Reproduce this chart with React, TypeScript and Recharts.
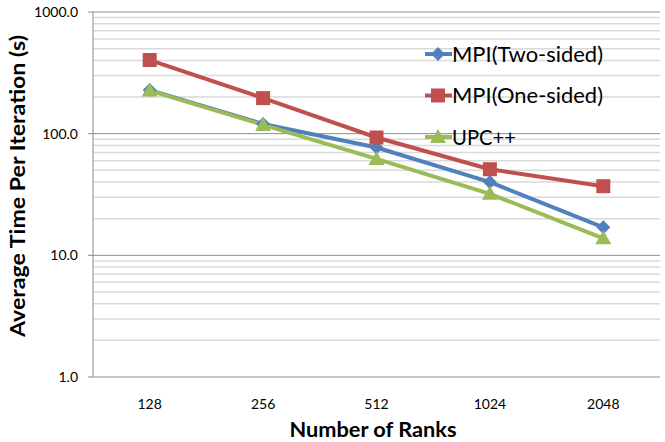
import { Line, LineChart, ReferenceLine, XAxis, YAxis } from "recharts";

const ranks = ["128", "256", "512", "1024", "2048"];
const twoSided = [228, 120, 77, 40, 17];
const oneSided = [403, 196, 93, 51, 37];
const upcxx = [226, 118, 62, 32, 13.8];

const majorTicks = [1, 10, 100, 1000];
const minorMultipliers = [2, 3, 4, 5, 6, 7, 8, 9];
const minorTicks = majorTicks.slice(0, 3).flatMap((d) => minorMultipliers.map((m) => m * d));

const SERIES = [
  { key: "two", name: "MPI(Two-sided)", color: "#4F81BD", shape: "diamond", textLen: 151 },
  { key: "one", name: "MPI(One-sided)", color: "#C0504D", shape: "square", textLen: 151 },
  { key: "upc", name: "UPC++", color: "#9BBB59", shape: "triangle", textLen: 64 },
];

const data = ranks.map((r, i) => ({
  rank: r,
  pos: i + 0.5,
  two: twoSided[i],
  one: oneSided[i],
  upc: upcxx[i],
}));

const FONT = "Lato, 'Open Sans', sans-serif";

function Marker({ cx, cy, shape, color }: any) {
  if (cx == null || cy == null) return null;
  if (shape === "diamond") {
    const s = 7;
    return <polygon points={`${cx},${cy - s} ${cx + s},${cy} ${cx},${cy + s} ${cx - s},${cy}`} fill={color} />;
  }
  if (shape === "square") {
    const s = 7;
    return <rect x={cx - s} y={cy - s} width={s * 2} height={s * 2} fill={color} />;
  }
  const s = 8;
  return <polygon points={`${cx},${cy - s} ${cx + s},${cy + s * 0.75} ${cx - s},${cy + s * 0.75}`} fill={color} />;
}

// legend drawn as an overlay: line + marker, then the series name
function LegendOverlay() {
  return (
    <svg width={665} height={442} style={{ position: "absolute", left: 0, top: 0, pointerEvents: "none" }}>
      {SERIES.map((s, i) => {
        const y = 54 + i * 41.5;
        return (
          <g key={s.key}>
            <line x1={425} y1={y} x2={452} y2={y} stroke={s.color} strokeWidth={4} />
            <Marker cx={438} cy={y} shape={s.shape} color={s.color} />
            <text x={452} y={y + 7.5} fontSize={21} fontFamily={FONT} fill="#000" textLength={s.textLen} lengthAdjust="spacingAndGlyphs">
              {s.name}
            </text>
          </g>
        );
      })}
    </svg>
  );
}

export default function App() {
  return (
    <div style={{ position: "absolute", left: 0, top: 0, width: 665, height: 442, background: "#fff" }}>
      <LineChart width={665} height={442} data={data} margin={{ top: 12, right: 5, left: 0, bottom: 0 }}>
        {minorTicks.map((v) => (
          <ReferenceLine key={`m${v}`} y={v} xAxisId="cat" stroke="#d9d9d9" strokeWidth={1.5} />
        ))}
        {majorTicks.map((v) => (
          <ReferenceLine key={`M${v}`} y={v} xAxisId="cat" stroke="#8c8c8c" strokeWidth={1} />
        ))}
        <rect x={385} y={35} width={258} height={123} fill="#fff" />
        <XAxis
          xAxisId="grid"
          type="number"
          dataKey="pos"
          domain={[0, 5]}
          ticks={[0, 1, 2, 3, 4, 5]}
          tick={false}
          tickSize={5}
          height={0}
          stroke="#8c8c8c"
          allowDataOverflow
        />
        <XAxis
          xAxisId="cat"
          type="number"
          dataKey="pos"
          domain={[0, 5]}
          ticks={data.map((d) => d.pos)}
          tickFormatter={(v: number) => ranks[Math.round(v - 0.5)]}
          tickLine={false}
          axisLine={false}
          tickMargin={16}
          height={65}
          tick={{ fill: "#000", fontSize: 14, fontFamily: FONT }}
        />
        <YAxis
          scale="log"
          domain={[1, 1000]}
          ticks={majorTicks}
          allowDataOverflow
          tickFormatter={(v: number) => v.toFixed(1)}
          tickSize={5}
          tickMargin={10}
          width={93}
          stroke="#8c8c8c"
          tick={{ fill: "#000", fontSize: 14, fontFamily: FONT }}
        />
        <text x={373} y={437} textAnchor="middle" fontSize={21} fontWeight={700} fontFamily={FONT} fill="#000" textLength={167} lengthAdjust="spacingAndGlyphs">
          Number of Ranks
        </text>
        <text
          x={0}
          y={0}
          transform="translate(25, 186) rotate(-90)"
          textAnchor="middle"
          fontSize={21}
          fontWeight={700}
          fontFamily={FONT}
          fill="#000"
          textLength={302}
          lengthAdjust="spacingAndGlyphs"
        >
          Average Time Per Iteration (s)
        </text>
        {SERIES.map((s) => (
          <Line
            key={s.key}
            xAxisId="cat"
            dataKey={s.key}
            name={s.name}
            stroke={s.color}
            strokeWidth={4}
            isAnimationActive={false}
            dot={(p: any) => <Marker key={`${s.key}-${p.index}`} cx={p.cx} cy={p.cy} shape={s.shape} color={s.color} />}
            activeDot={false}
          />
        ))}
      </LineChart>
      <LegendOverlay />
    </div>
  );
}
